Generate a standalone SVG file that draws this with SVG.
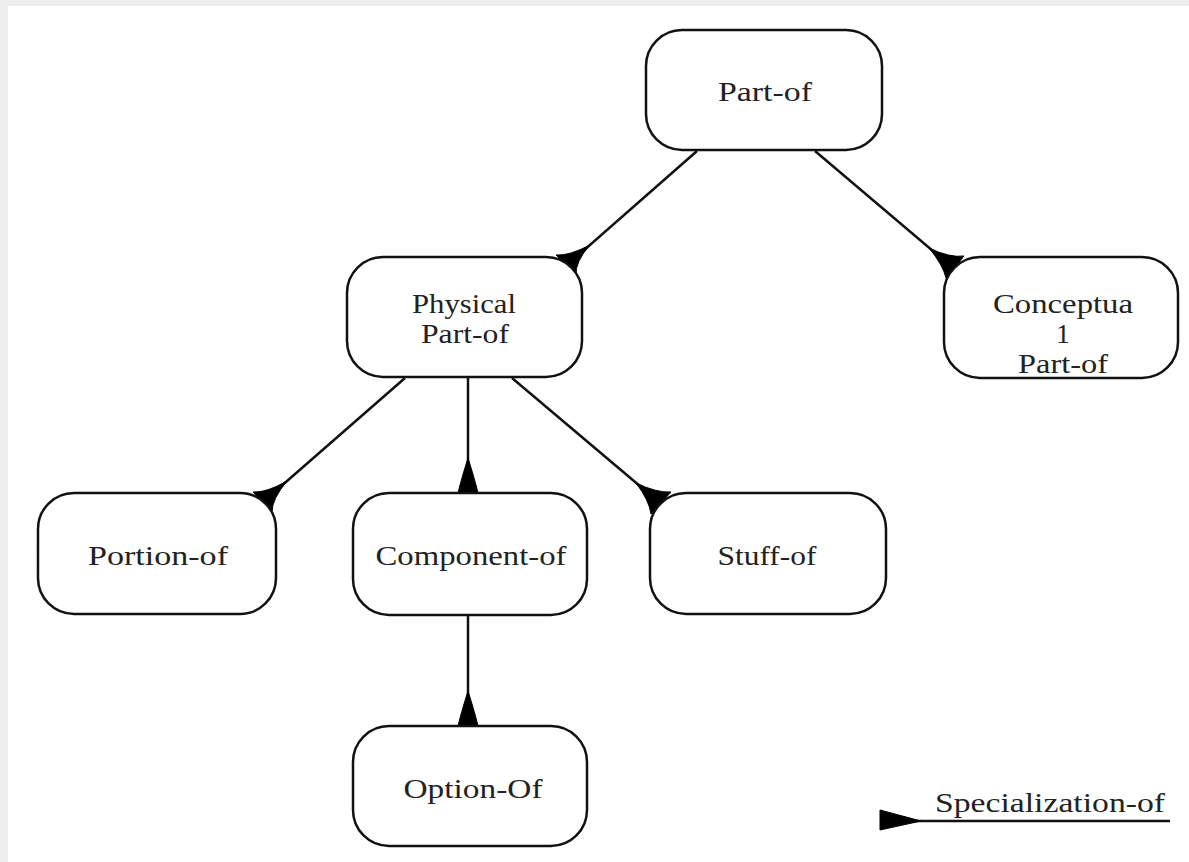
<svg xmlns="http://www.w3.org/2000/svg" width="1189" height="862" viewBox="0 0 1189 862">
  <style>
    .box { fill: #ffffff; stroke: #111111; stroke-width: 2.5; }
    .edge { fill: none; stroke: #111111; stroke-width: 2.5; }
    .head { fill: #000000; stroke: #000000; stroke-width: 1; stroke-linejoin: round; }
    .lbl { font-family: "Liberation Serif", "Times New Roman", serif; font-size: 27px; fill: #222222; text-anchor: middle; }
  </style>

  <!-- page background -->
  <rect x="0" y="0" width="1189" height="862" fill="#eeeeee"/>
  <rect x="8" y="6" width="1181" height="856" fill="#ffffff"/>

  <!-- specialization links; wedge base sits on the child node -->
  <g id="connectors">
    <line class="edge" x1="697" y1="151" x2="566" y2="266"/>
    <path class="head" d="M590,245 Q575,262 576,275 L556,255 Q569,256 590,245 Z"/>

    <line class="edge" x1="815" y1="151" x2="953" y2="268"/>
    <path class="head" d="M929,248 Q950,258 964,256 L946,278 Q943,265 929,248 Z"/>

    <line class="edge" x1="405" y1="378" x2="263" y2="502"/>
    <path class="head" d="M287,481 Q272,499 272,512 L253,492 Q266,493 287,481 Z"/>

    <line class="edge" x1="468" y1="378" x2="468" y2="493"/>
    <path class="head" d="M468,458 Q475,480 479,497 L457,497 Q461,480 468,458 Z"/>

    <line class="edge" x1="512" y1="378" x2="660" y2="503"/>
    <path class="head" d="M636,483 Q657,493 671,492 L651,514 Q649,500 636,483 Z"/>

    <line class="edge" x1="468" y1="615" x2="468" y2="726"/>
    <path class="head" d="M468,691 Q475,713 479,730 L457,730 Q461,713 468,691 Z"/>
  </g>

  <g id="n-part-of">
    <rect class="box" x="646" y="30" width="236" height="120" rx="36" ry="36"/>
    <text class="lbl" x="765" y="101" textLength="94" lengthAdjust="spacingAndGlyphs">Part-of</text>
  </g>

  <g id="n-physical">
    <rect class="box" x="347" y="257" width="235" height="120" rx="36" ry="36"/>
    <text class="lbl" x="464" y="313" textLength="104" lengthAdjust="spacingAndGlyphs">Physical</text>
    <text class="lbl" x="465" y="343" textLength="88" lengthAdjust="spacingAndGlyphs">Part-of</text>
  </g>

  <g id="n-conceptual">
    <rect class="box" x="944" y="257" width="234" height="121" rx="36" ry="36"/>
    <text class="lbl" x="1063" y="313" textLength="140" lengthAdjust="spacingAndGlyphs">Conceptua</text>
    <text class="lbl" x="1063" y="343">1</text>
    <text class="lbl" x="1063" y="373" textLength="90" lengthAdjust="spacingAndGlyphs">Part-of</text>
  </g>

  <g id="n-portion">
    <rect class="box" x="38" y="493" width="238" height="121" rx="36" ry="36"/>
    <text class="lbl" x="158" y="565" textLength="140" lengthAdjust="spacingAndGlyphs">Portion-of</text>
  </g>

  <g id="n-component">
    <rect class="box" x="353" y="493" width="234" height="122" rx="36" ry="36"/>
    <text class="lbl" x="471" y="565" textLength="191" lengthAdjust="spacingAndGlyphs">Component-of</text>
  </g>

  <g id="n-stuff">
    <rect class="box" x="650" y="493" width="236" height="121" rx="36" ry="36"/>
    <text class="lbl" x="767" y="565" textLength="99" lengthAdjust="spacingAndGlyphs">Stuff-of</text>
  </g>

  <g id="n-option">
    <rect class="box" x="353" y="726" width="234" height="120" rx="36" ry="36"/>
    <text class="lbl" x="473" y="798" textLength="139" lengthAdjust="spacingAndGlyphs">Option-Of</text>
  </g>

  <!-- legend -->
  <g id="legend">
    <line class="edge" x1="882" y1="821" x2="1170" y2="821"/>
    <polygon class="head" points="880,810 921,821 880,830"/>
    <text class="lbl" x="1050" y="812" textLength="230" lengthAdjust="spacingAndGlyphs">Specialization-of</text>
  </g>
</svg>
